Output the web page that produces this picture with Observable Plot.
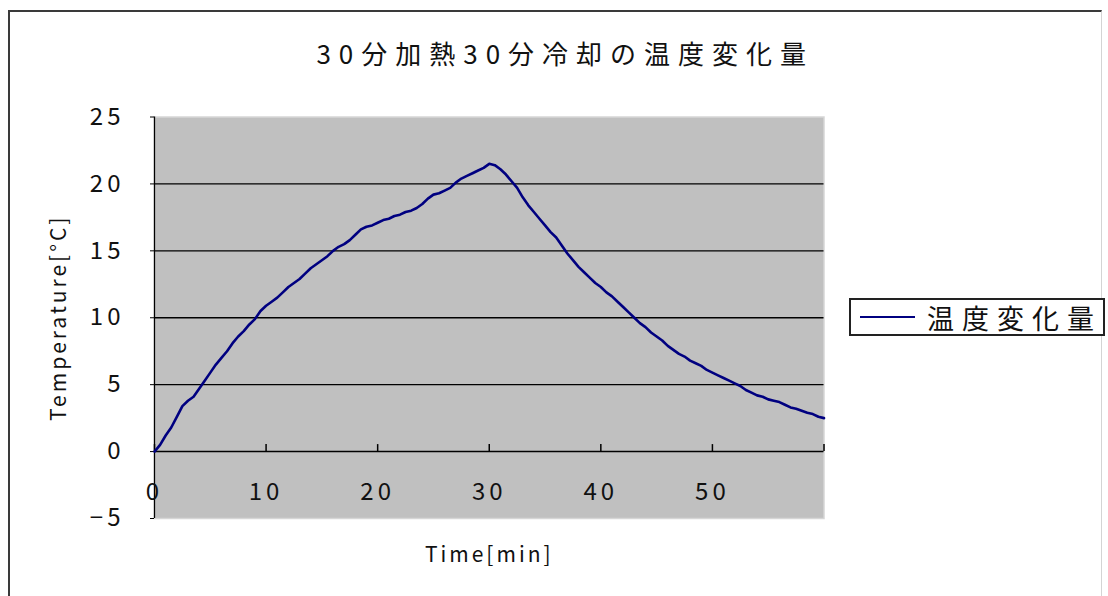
<!DOCTYPE html>
<html>
<head>
<meta charset="utf-8">
<script src="https://cdn.jsdelivr.net/npm/d3@7"></script>
<script src="https://cdn.jsdelivr.net/npm/@observablehq/plot@0.6"></script>
<style>
  html, body { margin: 0; padding: 0; background: #fff; }
  #wrap { position: relative; width: 1108px; height: 596px; overflow: hidden; font-family: "Noto Sans CJK JP", sans-serif; }
  #frame { position: absolute; left: 8px; top: 10px; width: 1094px; height: 600px; border-top: 2px solid #3a3a3a; border-left: 2px solid #3a3a3a; border-right: 1px solid #d4d4d4; box-sizing: border-box; pointer-events: none; }
  #legend { position: absolute; left: 849px; top: 298px; width: 256px; height: 38px; box-sizing: border-box; border: 2px solid #222; background: #fff; display: flex; align-items: center; }
  #legend .swatch { width: 55px; height: 2px; background: #000080; margin-left: 9px; margin-right: 12px; }
  #legend .label { font-size: 27px; letter-spacing: 8px; color: #111; line-height: 1; white-space: nowrap; }
</style>
</head>
<body>
<div id="wrap">
  <div id="chart"></div>
  <div id="frame"></div>
  <div id="legend"><span class="swatch"></span><span class="label" id="legendLabel"></span></div>
</div>
<script>
// Chart text
const chartTitle = "30分加熱30分冷却の温度変化量";
const seriesName = "温度変化量";
const xTitle = "Time[min]";
const yTitle = "Temperature[°C]";

// Axis ticks
const yTicks = [-5, 0, 5, 10, 15, 20, 25];
const xTicks = [0, 10, 20, 30, 40, 50, 60];
const xTickLabels = [0, 10, 20, 30, 40, 50];

// Temperature change, sampled every half minute (30 min heating, 30 min cooling)
const timeMin = d3.range(0, 60.01, 0.5);
const tempChange = [
  0.0, 0.5, 1.2, 1.8, 2.6, 3.4, 3.8, 4.1, 4.7, 5.3,
  5.9, 6.5, 7.0, 7.5, 8.1, 8.6, 9.0, 9.5, 9.9, 10.5,
  10.9, 11.2, 11.5, 11.9, 12.3, 12.6, 12.9, 13.3, 13.7, 14.0,
  14.3, 14.6, 15.0, 15.3, 15.5, 15.8, 16.2, 16.6, 16.8, 16.9,
  17.1, 17.3, 17.4, 17.6, 17.7, 17.9, 18.0, 18.2, 18.5, 18.9,
  19.2, 19.3, 19.5, 19.7, 20.1, 20.4, 20.6, 20.8, 21.0, 21.2,
  21.5, 21.4, 21.1, 20.7, 20.2, 19.7, 19.0, 18.4, 17.9, 17.4,
  16.9, 16.4, 16.0, 15.4, 14.8, 14.3, 13.8, 13.4, 13.0, 12.6,
  12.3, 11.9, 11.6, 11.2, 10.8, 10.4, 10.0, 9.6, 9.3, 8.9,
  8.6, 8.3, 7.9, 7.6, 7.3, 7.1, 6.8, 6.6, 6.4, 6.1,
  5.9, 5.7, 5.5, 5.3, 5.1, 4.9, 4.6, 4.4, 4.2, 4.1,
  3.9, 3.8, 3.7, 3.5, 3.3, 3.2, 3.05, 2.9, 2.8, 2.6,
  2.5
];

const series = timeMin.map((t, i) => ({t, v: tempChange[i]}));

const fmt = d => (d < 0 ? "\u2212" + (-d) : String(d));

const plot = Plot.plot({
  width: 1108,
  height: 596,
  marginLeft: 154,
  marginRight: 284.5,
  marginTop: 116.5,
  marginBottom: 78,
  style: {fontFamily: "'Noto Sans CJK JP', sans-serif", fontSize: "20px", background: "#fff", color: "#111"},
  x: {domain: [0, 60], axis: null},
  y: {domain: [-5, 25], axis: null},
  marks: [
    Plot.frame({fill: "#c0c0c0", stroke: "#d6d6d6", strokeWidth: 1.5}),
    // horizontal gridlines
    Plot.ruleY(yTicks.filter(d => d > 0 && d < 25), {stroke: "#000", strokeWidth: 1.3}),
    // value axis
    Plot.axisY(yTicks, {tickSize: 4, tickPadding: 26, fontSize: 24, label: null, tickFormat: fmt, stroke: "#000"}),
    Plot.ruleX([0], {stroke: "#000", strokeWidth: 1.3}),
    // time axis crossing at zero
    Plot.ruleY([0], {stroke: "#000", strokeWidth: 1.5}),
    Plot.ruleX(xTicks, {x: d => d, y1: 0, y2: 0, insetTop: -7, stroke: "#000", strokeWidth: 1.5}),
    Plot.text(xTickLabels, {x: d => d, y: 0, dy: 41, text: d => fmt(d), fontSize: 24, fill: "#111"}),
    // data
    Plot.line(series, {x: "t", y: "v", stroke: "#000080", strokeWidth: 2.6, strokeLinejoin: "round"}),
    // titles
    Plot.text([chartTitle], {frameAnchor: "top", dx: 76, dy: -71, fontSize: 26, fill: "#111"}),
    Plot.text([xTitle], {frameAnchor: "bottom", dy: 43, fontSize: 21, fill: "#111"}),
    Plot.text([yTitle], {frameAnchor: "left", textAnchor: "middle", dx: -95, rotate: -90, fontSize: 21, fill: "#111"})
  ]
});

// wide letter spacing for the chart's texts
const spacing = new Map([[chartTitle, 8], [xTitle, 3], [yTitle, 3]]);
d3.select(plot).selectAll("text").each(function () {
  const s = this.textContent;
  if (spacing.has(s)) this.setAttribute("letter-spacing", spacing.get(s));
  else if (/^[\u22120-9]+$/.test(s)) this.setAttribute("letter-spacing", 4);
});

document.getElementById("chart").appendChild(plot);
document.getElementById("legendLabel").textContent = seriesName;
</script>
</body>
</html>
